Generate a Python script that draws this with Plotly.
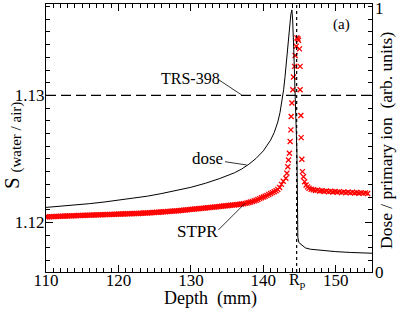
import plotly.graph_objects as go

# ---------------- data ----------------
dose_depth = [110, 112, 114, 116, 118, 120, 122, 124, 126, 128, 130, 132, 134, 136, 137, 138,
              139, 140, 140.5, 141, 141.5, 142, 142.3, 142.6, 142.8, 143.0, 143.2, 143.4, 143.6,
              143.8, 143.94, 144.05, 144.2, 144.35, 144.5, 144.63, 144.7, 144.76, 144.9, 145.3,
              145.8, 146.5, 148, 150, 152, 155]
dose_value = [0.241, 0.245, 0.250, 0.255, 0.261, 0.268, 0.275, 0.283, 0.293, 0.304, 0.316, 0.331,
              0.349, 0.370, 0.384, 0.402, 0.424, 0.452, 0.470, 0.492, 0.520, 0.560, 0.595, 0.640,
              0.680, 0.730, 0.790, 0.855, 0.920, 0.962, 0.978, 0.94, 0.83, 0.70, 0.56, 0.45, 0.30,
              0.13, 0.11, 0.100, 0.090, 0.085, 0.080, 0.076, 0.073, 0.070]

# STPR: dense build-up part (0.25 mm readings)
stpr_depth_a = [110.00, 110.25, 110.50, 110.75, 111.00, 111.25, 111.50, 111.75, 112.00, 112.25,
                112.50, 112.75, 113.00, 113.25, 113.50, 113.75, 114.00, 114.25, 114.50, 114.75,
                115.00, 115.25, 115.50, 115.75, 116.00, 116.25, 116.50, 116.75, 117.00, 117.25,
                117.50, 117.75, 118.00, 118.25, 118.50, 118.75, 119.00, 119.25, 119.50, 119.75,
                120.00, 120.25, 120.50, 120.75, 121.00, 121.25, 121.50, 121.75, 122.00, 122.25,
                122.50, 122.75, 123.00, 123.25, 123.50, 123.75, 124.00, 124.25, 124.50, 124.75,
                125.00, 125.25, 125.50, 125.75, 126.00, 126.25, 126.50, 126.75, 127.00, 127.25,
                127.50, 127.75, 128.00, 128.25, 128.50, 128.75, 129.00, 129.25, 129.50, 129.75,
                130.00, 130.25, 130.50, 130.75, 131.00, 131.25, 131.50, 131.75, 132.00, 132.25,
                132.50, 132.75, 133.00, 133.25, 133.50, 133.75, 134.00, 134.25, 134.50, 134.75,
                135.00, 135.25, 135.50, 135.75, 136.00, 136.25, 136.50, 136.75, 137.00, 137.25,
                137.50, 137.75, 138.00, 138.25, 138.50, 138.75, 139.00, 139.25, 139.50, 139.75,
                140.00, 140.25, 140.50, 140.75, 141.00, 141.25, 141.50, 141.75, 142.00, 142.25,
                142.50, 142.75]
stpr_value_a = [1.12044, 1.12044, 1.12045, 1.12046, 1.12046, 1.12047, 1.12048, 1.12048, 1.12049, 1.12050,
                1.12050, 1.12051, 1.12051, 1.12052, 1.12052, 1.12053, 1.12053, 1.12054, 1.12055, 1.12055,
                1.12056, 1.12056, 1.12057, 1.12057, 1.12058, 1.12058, 1.12059, 1.12059, 1.12060, 1.12060,
                1.12061, 1.12061, 1.12062, 1.12062, 1.12063, 1.12063, 1.12064, 1.12064, 1.12065, 1.12065,
                1.12066, 1.12066, 1.12067, 1.12067, 1.12068, 1.12068, 1.12069, 1.12069, 1.12070, 1.12070,
                1.12071, 1.12071, 1.12072, 1.12073, 1.12074, 1.12074, 1.12075, 1.12076, 1.12077, 1.12078,
                1.12079, 1.12080, 1.12081, 1.12082, 1.12083, 1.12084, 1.12085, 1.12086, 1.12087, 1.12088,
                1.12089, 1.12090, 1.12091, 1.12092, 1.12094, 1.12095, 1.12097, 1.12098, 1.12100, 1.12101,
                1.12103, 1.12104, 1.12106, 1.12107, 1.12108, 1.12110, 1.12111, 1.12113, 1.12114, 1.12116,
                1.12117, 1.12119, 1.12120, 1.12122, 1.12123, 1.12125, 1.12126, 1.12128, 1.12129, 1.12131,
                1.12132, 1.12134, 1.12135, 1.12137, 1.12138, 1.12140, 1.12142, 1.12144, 1.12146, 1.12148,
                1.12150, 1.12153, 1.12157, 1.12161, 1.12165, 1.12170, 1.12175, 1.12181, 1.12188, 1.12194,
                1.12200, 1.12206, 1.12213, 1.12220, 1.12228, 1.12235, 1.12242, 1.12250, 1.12260, 1.12275,
                1.12300, 1.12325]

# STPR: sparse points around the Bragg peak and the distal tail
stpr_depth_b = [143.11, 143.25, 143.38, 143.47, 143.60, 143.70, 143.80, 143.84, 143.94, 144.07,
                144.16, 144.30, 144.39, 144.54, 144.63, 144.76, 144.85,
                144.99, 145.08, 145.08, 145.18, 145.22, 145.32, 145.40, 145.54,
                145.7, 145.9, 146.1, 146.3, 146.6, 146.9, 147.2, 147.5, 147.8, 148.1, 148.4, 148.7,
                149.0, 149.3, 149.6, 149.9, 150.2, 150.5, 150.8, 151.1, 151.4, 151.7, 152.0, 152.3,
                152.6, 152.9, 153.2, 153.5, 153.8, 154.1, 154.4, 154.7, 155.0]
stpr_value_b = [1.12348, 1.12387, 1.12439, 1.12492, 1.12545, 1.12637, 1.12729, 1.12834, 1.12940,
                1.13045, 1.13145, 1.13229, 1.13314, 1.13387, 1.13453, 1.13446, 1.13434,
                1.13367, 1.13229, 1.13045, 1.12842, 1.12668, 1.12498, 1.12400, 1.12360,
                1.12320, 1.12295, 1.12280, 1.12270, 1.12262, 1.12258, 1.12252, 1.12256, 1.12248,
                1.12250, 1.12244, 1.12249, 1.12242, 1.12246, 1.12240, 1.12244, 1.12238, 1.12243,
                1.12236, 1.12241, 1.12235, 1.12239, 1.12233, 1.12238, 1.12232, 1.12236, 1.12230,
                1.12235, 1.12229, 1.12233, 1.12228]

trs398 = 1.130
rp = 144.6

x_ticks = [110, 120, 130, 140, 150]
y_ticks = [1.12, 1.13]
y2_ticks = [0, 1]

# ---------------- layout helpers ----------------
W, H = 399, 309
L, R, T, B = 46, 372, 4, 272
FONT = "Liberation Serif"


def px(xp):
    return (xp - L) / (R - L)


def py(yp):
    return (B - yp) / (B - T)


fig = go.Figure()

fig.add_trace(go.Scatter(
    x=stpr_depth_a + stpr_depth_b, y=stpr_value_a + stpr_value_b, mode="markers", yaxis="y",
    marker=dict(symbol="x-thin", size=5, color="red", line=dict(color="red", width=1.3)),
    showlegend=False))

fig.add_trace(go.Scatter(
    x=dose_depth, y=dose_value, mode="lines", yaxis="y2",
    line=dict(color="black", width=1), showlegend=False))

# reference lines
fig.add_shape(type="line", xref="paper", x0=0, x1=1, yref="y", y0=trs398, y1=trs398,
              line=dict(color="black", width=1.3, dash="10px,5px"))
fig.add_shape(type="line", xref="x", x0=rp, x1=rp, yref="paper", y0=0, y1=1,
              line=dict(color="black", width=1.2, dash="dot"))

# leader lines (pixel positions of label pointers)
for (a, b, c, d) in [(218, 79.3, 241.7, 95), (225, 161.7, 246.7, 165), (218.3, 230, 245, 203.3)]:
    fig.add_shape(type="line", xref="paper", yref="paper", x0=px(a), y0=py(b), x1=px(c), y1=py(d),
                  line=dict(color="black", width=0.8))

ann = []


def text(t, xp, yp, size, angle=0):
    ann.append(dict(text=t, xref="paper", yref="paper", x=px(xp), y=py(yp), showarrow=False,
                    xanchor="center", yanchor="middle", textangle=angle,
                    font=dict(family=FONT, size=size, color="black")))


text("TRS-398", 190, 78, 16)
text("dose", 207, 158, 17)
text("STPR", 197, 231, 17)
text("(a)", 341.5, 25, 15)
text("R<sub>p</sub>", 297, 280, 16)
text("Depth  (mm)", 210, 298.5, 18)
text("S", 12, 183, 21, -90)
text("(water / air)", 15.5, 137, 15, -90)
text("Dose / primary ion  (arb. units)", 386, 141, 17.5, -90)
text("1", 379, 8, 17)
text("0", 379, 272, 17)

fig.update_layout(
    width=W, height=H,
    margin=dict(l=L, r=W - R, t=T, b=H - B),
    paper_bgcolor="white", plot_bgcolor="white",
    showlegend=False,
    annotations=ann,
    xaxis=dict(range=[110, 155], tickvals=x_ticks, ticks="inside", ticklen=7, tickwidth=1,
               tickcolor="black", showline=True, linecolor="black", linewidth=1, mirror="ticks",
               showgrid=False, zeroline=False, ticklabelstandoff=-7,
               minor=dict(dtick=1, tick0=110, ticks="inside", ticklen=4, tickcolor="black", showgrid=False),
               tickfont=dict(family=FONT, size=17, color="black")),
    yaxis=dict(range=[1.1161, 1.1372], tickvals=y_ticks, tickformat=".2f", ticks="inside",
               ticklen=7, tickwidth=1, tickcolor="black", showline=True, linecolor="black",
               linewidth=1, mirror="ticks", showgrid=False, zeroline=False, ticklabelstandoff=-3,
               minor=dict(dtick=0.001, tick0=1.12, ticks="inside", ticklen=4, tickcolor="black", showgrid=False),
               tickfont=dict(family=FONT, size=17, color="black")),
    yaxis2=dict(range=[0, 1], overlaying="y", side="right", tickvals=y2_ticks, ticks="inside",
                ticklen=7, tickcolor="black", showline=False, showgrid=False, zeroline=False,
                showticklabels=False),
)

fig.write_html("out.html", config={"displayModeBar": False},
               post_script="document.body.style.margin='0';document.body.style.overflow='hidden';")
